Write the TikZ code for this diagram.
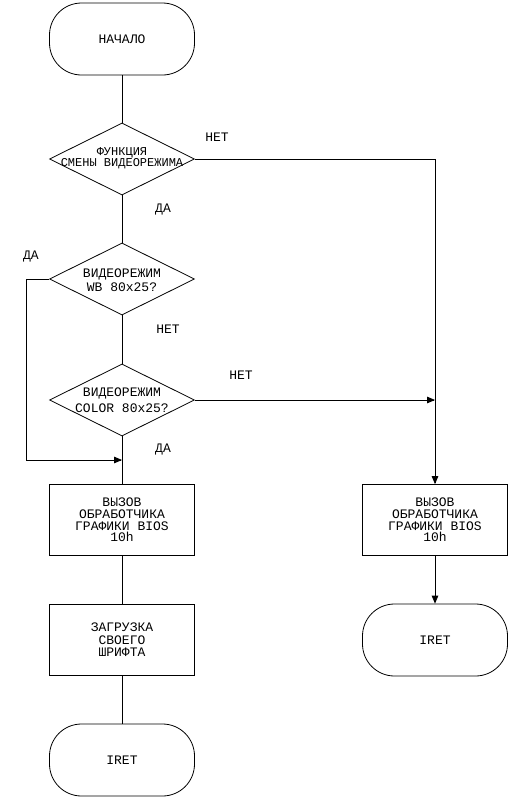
\documentclass[tikz,border=0pt]{standalone}
\usepackage{fontspec}
\setmainfont{Liberation Mono}
\usetikzlibrary{arrows}
\usetikzlibrary{shapes.geometric}
\tikzset{term/.style={draw,line width=.8pt,rounded corners=32pt,
    minimum width=145pt,minimum height=72pt,inner sep=0pt,
    font=\fontsize{13}{12}\selectfont}}
\tikzset{proc/.style={draw,line width=.8pt,minimum width=145pt,
    minimum height=71pt,inner sep=0pt,align=center,
    font=\fontsize{13}{11.6}\selectfont}}
\tikzset{decision/.style={draw,diamond,line width=.8pt,inner sep=0pt,
    minimum width=145pt,minimum height=72pt}}
\tikzset{dtext/.style={align=center,inner sep=0pt,
    font=\fontsize{#1}{#1}\selectfont}}
\tikzset{answer/.style={inner sep=0pt,font=\fontsize{13}{13}\selectfont}}
\tikzset{link/.style={line width=.8pt}}

\begin{document}
\begin{tikzpicture}[x=1pt,y=-1pt]
  \useasboundingbox (0,0) rectangle (518,804);
  % left column
  \node[term] (start) at (122,39) {НАЧАЛО};
  \node[decision] (d1) at (122,159) {};
  \node[dtext=12,font=\fontsize{12}{10.5}\selectfont] (d1t) at (122,158) {ФУНКЦИЯ\\СМЕНЫ ВИДЕОРЕЖИМА};
  \node[decision] (d2) at (122,279) {};
  \node[dtext=13,font=\fontsize{13}{14}\selectfont] (d2t) at (122,280) {ВИДЕОРЕЖИМ\\WB 80x25?};
  \node[decision] (d3) at (122,400) {};
  \node[dtext=13,font=\fontsize{13}{16}\selectfont] (d3t) at (122,400) {ВИДЕОРЕЖИМ\\COLOR 80x25?};
  \node[proc] (bios1) at (122,520) {ВЫЗОВ\\ОБРАБОТЧИКА\\ГРАФИКИ BIOS\\10h};
  \node[proc,font=\fontsize{13}{12.5}\selectfont] (font) at (122,640) {ЗАГРУЗКА\\СВОЕГО\\ШРИФТА};
  \node[term] (end1) at (122,760) {IRET};
  % right column
  \node[proc] (bios2) at (435,520) {ВЫЗОВ\\ОБРАБОТЧИКА\\ГРАФИКИ BIOS\\10h};
  \node[term] (end2) at (435,640) {IRET};
  \coordinate (join) at (122,460);
  \coordinate (left) at (26,279);
  \coordinate (merge) at (435,400);
  % answers
  \node[answer] (no1) at (217,137) {НЕТ};
  \node[answer] (yes1) at (163,210) {ДА};
  \node[answer] (yes2) at (31,257) {ДА};
  \node[answer] (no2) at (168,329) {НЕТ};
  \node[answer] (no3) at (241,375) {НЕТ};
  \node[answer] (yes3) at (163,450) {ДА};
  % links
  \draw[link] (start) -- (d1);
  \draw[link] (d1) -- (d2);
  \draw[link] (d2) -- (d3);
  \draw[link] (d3) -- (bios1);
  \draw[link] (bios1) -- (font);
  \draw[link] (font) -- (end1);
  \draw[link,-triangle 45] (d1.east) -| (bios2.north);
  \draw[link,-triangle 45] (d2.west) -- (left) |- (join);
  \draw[link,-triangle 45] (d3.east) -- (merge);
  \draw[link,-triangle 45] (bios2) -- (end2);
\end{tikzpicture}
\end{document}
